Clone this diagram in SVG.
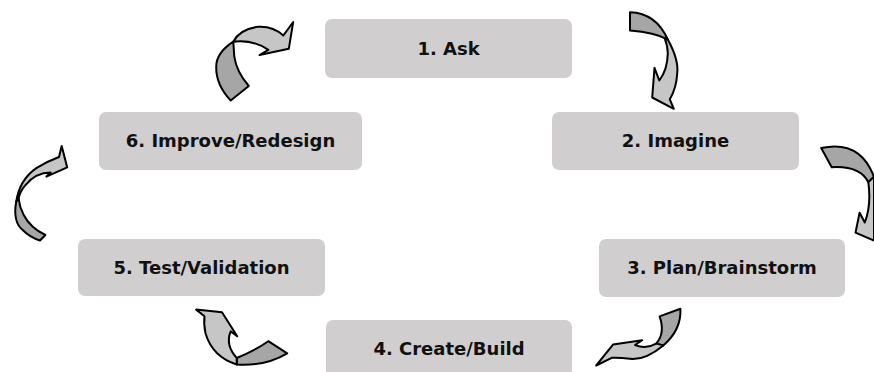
<svg xmlns="http://www.w3.org/2000/svg" width="874" height="372" viewBox="0 0 874 372">
<style>
.box{fill:#D0CECE;}
.lbl{font-family:"DejaVu Sans",sans-serif;font-weight:bold;font-size:18px;fill:#111;text-anchor:middle;}
.dk{fill:#A6A6A6;stroke:#000;stroke-width:2;stroke-linejoin:round;}
.lt{fill:#C6C6C6;stroke:#000;stroke-width:2;stroke-linejoin:round;}
</style>
<rect width="874" height="372" fill="#fff"/>
<g id="n1"><rect class="box" x="325" y="19" width="247" height="59" rx="7"/><text class="lbl" x="448.5" y="55">1. Ask</text></g>
<g id="n2"><rect class="box" x="552" y="112" width="247" height="58" rx="7"/><text class="lbl" x="675.5" y="147">2. Imagine</text></g>
<g id="n3"><rect class="box" x="599" y="239" width="246" height="58" rx="7"/><text class="lbl" x="722" y="274">3. Plan/Brainstorm</text></g>
<g id="n4"><rect class="box" x="326" y="320" width="246" height="60" rx="7"/><text class="lbl" x="449" y="355">4. Create/Build</text></g>
<g id="n5"><rect class="box" x="78" y="239" width="247" height="57" rx="7"/><text class="lbl" x="201.5" y="274">5. Test/Validation</text></g>
<g id="n6"><rect class="box" x="99" y="112" width="263" height="58" rx="7"/><text class="lbl" x="230.5" y="147">6. Improve/Redesign</text></g>
<g id="connectors">
<g id="a61">
<path class="dk" d="M233.3,41.7 Q216,53 216.2,67 Q216,85 230.7,100.5 L248.8,86 Q236.5,72 234.3,56.7 Z"/>
<path class="lt" d="M233.3,41.7 Q240,29 258.3,26.8 Q273,26 283.3,35.5 L293.2,22 L288.8,48.8 L259.5,55 L268.3,49.8 Q255,41 240,41.2 Q236,41.5 233.3,41.7 Z"/>
</g>
<g id="a12">
<path class="dk" d="M630,12.2 Q656,13 667.8,39.5 Q655,32.5 630,30.5 Z"/>
<path class="lt" d="M667.8,39.5 Q679,60 677.2,73.3 Q676.5,88 669.8,99.3 L673.8,108.8 L652.2,97.5 L654.5,67.8 L659.3,80.5 Q667.5,70 667.8,53.3 Q667.5,45 665,39.3 Z"/>
</g>
<g id="a23">
<path class="dk" d="M821.2,148 Q860,139.5 874,176.7 L868.3,182.2 Q860,165.5 831.7,167.2 Z"/>
<path class="lt" d="M874,176.7 L874,240.5 L855.5,232.6 L859.6,212.8 L864.8,222.5 Q871.5,205 868.3,182.2 Z"/>
</g>
<g id="a34">
<path class="dk" d="M659.6,316.4 L680.4,308.8 Q681.5,330 663.3,345.4 L656.2,343.6 Q665.5,333 659.6,316.4 Z"/>
<path class="lt" d="M663.3,345.4 Q645,360.5 630,358.8 Q620,357.5 611.7,357.8 L596.2,365.5 L613,344.6 L642.2,340.2 L635,345 Q646,349.5 656.2,343.6 Z"/>
</g>
<g id="a45">
<path class="dk" d="M236.7,358 Q255,350.5 268.3,341.2 L287.2,353.3 Q265,366.5 236.7,364.5 Z"/>
<path class="lt" d="M236.7,364.5 Q212.5,357 205.5,333.3 Q203.5,324 204.5,316.2 L196.2,309.6 L222,312.2 L237.2,336.3 L230.7,331.4 Q225,345 236.7,358 Z"/>
</g>
<g id="a56">
<path class="dk" d="M16.2,201.7 Q12.5,222 23,230.3 Q30,237.5 40,240.5 L45.4,235 Q30.5,228 23.7,215 Q19.5,207 18.6,198.3 Z"/>
<path class="lt" d="M16.2,201.7 Q19.5,179.5 36.7,167.8 Q47,161.5 59,157 L61.7,146 L67.2,167.4 L46.4,176.6 L50.7,172.6 Q36,172.5 25.2,185.3 Q20.2,191 18.6,198.3 Z"/>
</g>
</g>
</svg>
